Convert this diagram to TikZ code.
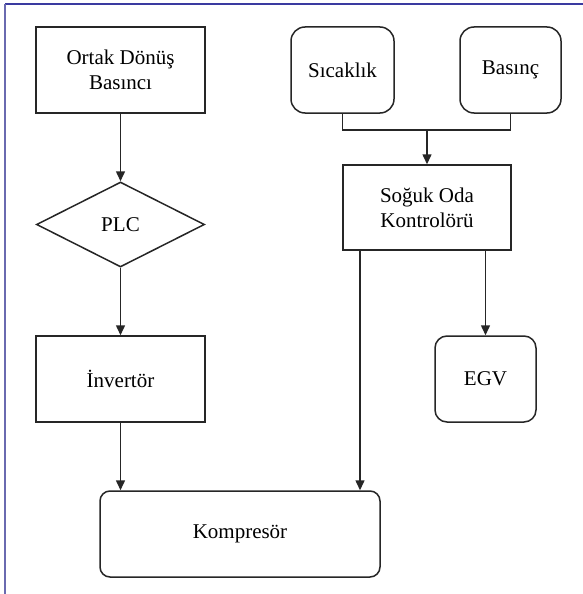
\documentclass[tikz,border=0pt]{standalone}
\usepackage{fontspec}
\setmainfont{Liberation Serif}
\newfontfamily\tnr{Liberation Serif}
\usetikzlibrary{arrows.meta,shapes.geometric}
\definecolor{ln}{HTML}{262626}
\definecolor{frtop}{HTML}{3A3AA0}
\definecolor{frleft}{HTML}{6A6AB0}
\tikzset{
  base/.style={draw=ln, line width=1.5pt, inner sep=0pt, align=center,
    font=\tnr\fontsize{21pt}{25pt}\selectfont, text=black},
  sqbox/.style={base, rectangle},
  rbox/.style={base, rectangle, rounded corners=12pt},
  dbox/.style={base, diamond},
  arr/.style={draw=ln, line width=1.5pt, -{Triangle[width=9pt,length=10pt]}},
  conn/.style={draw=ln, line width=1.5pt},
}
\begin{document}
\begin{tikzpicture}[x=1pt,y=-1pt]
\useasboundingbox (0,0) rectangle (583,594);
\fill[white] (0,0) rectangle (583,594);
\draw[frtop, line width=1.6pt] (5,4) -- (583,4);
\draw[frleft, line width=1.8pt] (5,4) -- (5,594);

\node[sqbox, minimum width=169pt, minimum height=86pt] (ortak) at (120.5,70) {Ortak Dönüş\\Basıncı};
\node[dbox, minimum width=168pt, minimum height=85pt] (plc) at (120.5,224.5) {PLC};
\node[sqbox, minimum width=169pt, minimum height=86pt] (inv) at (120.5,379) {İnvertör};
\node[rbox, minimum width=280pt, minimum height=86pt, rounded corners=10pt] (komp) at (240,534) {Kompresör};
\node[rbox, minimum width=103pt, minimum height=86pt, rounded corners=14pt] (sic) at (342.5,70) {Sıcaklık};
\node[rbox, minimum width=101pt, minimum height=86pt, rounded corners=14pt] (bas) at (510.5,70) {\raisebox{3pt}{Basınç}};
\node[sqbox, minimum width=168pt, minimum height=85pt] (sog) at (427,207.5) {Soğuk Oda\\Kontrolörü};
\node[rbox, minimum width=101pt, minimum height=86pt] (egv) at (485.5,379) {EGV};

\coordinate (j) at (427,130);
\draw[arr] (ortak.south) -- (plc.north);
\draw[arr] (plc.south) -- (inv.north);
\draw[arr] (inv.south) -- (inv.south |- komp.north);
\draw[conn] (sic.south) |- (j) -| (bas.south);
\draw[arr] (j) -- (sog.north);
\coordinate (sl) at ([xshift=-67pt]sog.south);
\draw[arr] (sl) -- (sl |- komp.north);
\draw[arr] (sog.south -| egv.north) -- (egv.north);
\end{tikzpicture}
\end{document}
